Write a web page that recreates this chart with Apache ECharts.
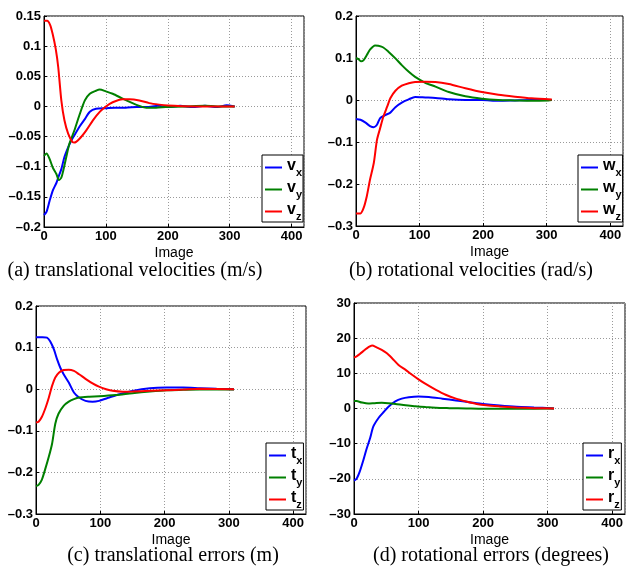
<!DOCTYPE html>
<html>
<head>
<meta charset="utf-8">
<script src="https://cdn.jsdelivr.net/npm/echarts@6/dist/echarts.min.js"></script>
<style>html,body{margin:0;padding:0;background:#fff}#c{width:629px;height:571px}</style>
</head>
<body>
<div id="c"></div>
<script>
// ---- Data ----
const xTicks = [0, 100, 200, 300, 400];
const captions = ['(a) translational velocities (m/s)', '(b) rotational velocities (rad/s)', '(c) translational errors (m)', '(d) rotational errors (degrees)'];
const names = [['vx','vy','vz'], ['wx','wy','wz'], ['tx','ty','tz'], ['rx','ry','rz']];
const yRanges = [[-0.2, 0.15, 0.05], [-0.3, 0.2, 0.1], [-0.3, 0.2, 0.1], [-30, 30, 10]];

// (a) translational velocities
const vxX = [0,4,9,14,20,23,28,33,39,44,49,57,66,74,84,100,115,132,150,165,185,200,220,240,260,280,295,308];
const vxY = [-0.18,-0.175,-0.157,-0.14,-0.127,-0.118,-0.104,-0.084,-0.068,-0.057,-0.048,-0.034,-0.021,-0.009,-0.004,-0.003,-0.002,-0.002,-0.001,-0.001,0.001,-0.001,0.001,-0.001,0.001,-0.001,0.002,0];
const vyX = [0,4,9,14,20,24,28,31,36,41,49,57,66,74,84,90,100,111,127,143,154,165,181,197,229,260,290,308];
const vyY = [-0.082,-0.078,-0.087,-0.101,-0.112,-0.122,-0.118,-0.107,-0.084,-0.062,-0.04,-0.015,0.01,0.021,0.026,0.028,0.025,0.021,0.013,0.0055,0.001,-0.002,-0.002,-0.001,0,0.001,0,0];
const vzX = [0,5,10,14,19,23,28,33,39,46,49,57,68,79,90,100,111,127,138,154,170,186,200,224,260,308];
const vzY = [0.142,0.142,0.135,0.12,0.095,0.065,0.01,-0.023,-0.045,-0.059,-0.06,-0.054,-0.04,-0.023,-0.009,0,0.007,0.012,0.012,0.01,0.0055,0.003,0.0015,0.0005,0,0];

// (b) rotational velocities
const wxX = [0,7,15,22,28,33,38,46,54,62,72,83,93,109,125,146,172,198,224,250,276,308];
const wxY = [-0.045,-0.047,-0.054,-0.062,-0.065,-0.059,-0.043,-0.036,-0.03,-0.017,-0.006,0.0016,0.007,0.006,0.005,0.0016,0,0,-0.002,-0.001,0,0];
const wyX = [0,4,8,12,17,22,30,35,43,51,62,72,83,93,109,125,146,172,198,224,250,276,303,308];
const wyY = [0.1,0.097,0.092,0.095,0.107,0.12,0.13,0.129,0.125,0.115,0.099,0.083,0.067,0.055,0.041,0.032,0.019,0.0087,0.003,0,-0.001,-0.002,-0.001,0];
const wzX = [0,7,12,17,22,28,33,38,43,49,54,62,72,83,93,109,125,146,172,198,224,250,276,308];
const wzY = [-0.27,-0.27,-0.257,-0.229,-0.19,-0.15,-0.095,-0.067,-0.04,-0.016,0.004,0.022,0.034,0.04,0.043,0.0435,0.043,0.038,0.028,0.019,0.0126,0.008,0.004,0.001];

// (c) translational errors
const txX = [0,10,17,22,28,33,38,43,51,59,67,77,88,98,114,130,150,177,203,229,255,281,308];
const txY = [0.125,0.125,0.124,0.115,0.095,0.071,0.051,0.036,0.016,-0.008,-0.02,-0.028,-0.03,-0.028,-0.02,-0.012,-0.004,0.0024,0.004,0.004,0.0024,0.001,0];
const tyX = [0,4,9,14,20,25,30,35,43,51,59,67,83,98,124,150,177,203,229,255,308];
const tyY = [-0.233,-0.23,-0.218,-0.194,-0.162,-0.131,-0.083,-0.059,-0.04,-0.03,-0.024,-0.02,-0.018,-0.017,-0.014,-0.0095,-0.0055,-0.0024,-0.0016,-0.001,-0.001];
const tzX = [0,4,9,15,20,25,30,36,43,51,59,67,77,88,98,109,119,135,150,177,203,229,255,308];
const tzY = [-0.08,-0.078,-0.067,-0.044,-0.02,0.008,0.028,0.04,0.046,0.047,0.044,0.036,0.025,0.014,0.006,0,-0.004,-0.006,-0.0055,-0.004,-0.0024,-0.001,0.001,0];

// (d) rotational errors
const rxX = [0,4,9,14,19,25,30,38,46,53,64,74,85,100,116,137,158,179,200,226,252,279,305,310];
const rxY = [-20.5,-20,-17.9,-15,-11.8,-8.4,-5.1,-2.7,-1,0.4,2,2.8,3.2,3.4,3.3,2.8,2.3,1.8,1.3,0.85,0.5,0.3,0.1,0];
const ryX = [0,4,12,22,32,43,53,64,80,95,111,127,148,174,200,252,310];
const ryY = [2.1,2.1,1.7,1.4,1.5,1.6,1.5,1.3,0.9,0.66,0.4,0.2,0.1,0,-0.1,-0.1,0];
const rzX = [0,4,9,17,22,28,35,43,51,59,69,80,90,100,111,127,142,158,174,190,205,226,252,279,310];
const rzY = [14.5,14.8,15.5,16.7,17.4,17.9,17.4,16.7,15.7,14.3,12.4,11,9.6,8.3,7,5.3,3.9,2.8,2,1.3,0.9,0.6,0.3,0.1,0];

const seriesData = [
  [[vxX, vxY], [vyX, vyY], [vzX, vzY]],
  [[wxX, wxY], [wyX, wyY], [wzX, wzY]],
  [[txX, txY], [tyX, tyY], [tzX, tzY]],
  [[rxX, rxY], [ryX, ryY], [rzX, rzY]]
];

// ---- Layout / style ----
const colors = ['#0000ff', '#008000', '#ff0000'];
const grids = [
  {left: 44, top: 16, width: 260, height: 211},
  {left: 356, top: 16, width: 267, height: 210},
  {left: 36, top: 306, width: 270, height: 208},
  {left: 354, top: 303, width: 271, height: 211}
];
const legendPos = [
  {left: 262, top: 155},
  {left: 578, top: 155},
  {left: 266, top: 443},
  {left: 583, top: 443}
];
const captionPos = [[135, 271], [471, 271], [173, 556], [491, 556]];

const zip = (xs, ys) => xs.map((x, i) => [x, ys[i]]);
const tickFont = {fontFamily: 'Liberation Sans', fontWeight: 'bold', fontSize: 13, color: '#000'};
const dash = v => String(+v.toFixed(4)).replace('-', '\u2013');

const option = {
  animation: false,
  backgroundColor: '#fff',
  grid: grids.map(g => Object.assign({show: true, borderColor: '#000', borderWidth: 1, containLabel: false}, g)),
  xAxis: grids.map((g, i) => ({
    type: 'value', gridIndex: i, min: 0, max: 420, interval: 100,
    name: 'Image', nameLocation: 'middle', nameGap: 19,
    nameTextStyle: {fontFamily: 'Liberation Sans', fontSize: 14, color: '#000'},
    axisLine: {show: true, onZero: false, lineStyle: {color: '#000', width: 1}},
    axisTick: {show: true, inside: true, length: 3, lineStyle: {color: '#000'}},
    axisLabel: Object.assign({margin: 3, showMaxLabel: false, formatter: v => xTicks.includes(v) ? String(v) : ''}, tickFont),
    splitLine: {show: true, lineStyle: {type: [1, 2], color: '#9a9a9a', width: 1}}
  })),
  yAxis: yRanges.map((r, i) => ({
    type: 'value', gridIndex: i, min: r[0], max: r[1], interval: r[2],
    axisLine: {show: true, onZero: false, lineStyle: {color: '#000', width: 1}},
    axisTick: {show: true, inside: true, length: 3, lineStyle: {color: '#000'}},
    axisLabel: Object.assign({margin: 3, formatter: dash}, tickFont),
    splitLine: {show: true, lineStyle: {type: [1, 2], color: '#9a9a9a', width: 1}}
  })),
  legend: names.map((ns, i) => ({
    data: ns, orient: 'vertical', left: legendPos[i].left, top: legendPos[i].top,
    backgroundColor: '#fff', borderColor: '#000', borderWidth: 1,
    padding: [2, 1, 0, 3], itemGap: 1, itemWidth: 17, itemHeight: 2, icon: 'rect',
    selectedMode: false,
    formatter: n => '{m|' + n[0] + '}{s|' + n[1] + '}',
    textStyle: {
      rich: {
        m: {fontFamily: 'Liberation Sans', fontWeight: 'bold', fontSize: 16, color: '#000', lineHeight: 20, verticalAlign: 'top'},
        s: {fontFamily: 'Liberation Sans', fontWeight: 'bold', fontSize: 11, color: '#000', lineHeight: 20, padding: [10, 0, 0, 0]}
      }
    }
  })),
  series: [],
  graphic: captions.map((t, i) => ({
    type: 'text', x: captionPos[i][0], y: captionPos[i][1],
    style: {text: t, font: '20px "Liberation Serif"', fill: '#000', textAlign: 'center', textVerticalAlign: 'middle'}
  }))
};

seriesData.forEach((panel, i) => {
  panel.forEach((s, j) => {
    option.series.push({
      type: 'line', name: names[i][j], xAxisIndex: i, yAxisIndex: i,
      data: zip(s[0], s[1]), showSymbol: false, smooth: 0.25,
      lineStyle: {color: colors[j], width: 2}, itemStyle: {color: colors[j]}
    });
  });
});

const chart = echarts.init(document.getElementById('c'), null, {renderer: 'canvas', width: 629, height: 571});
chart.setOption(option);
</script>
</body>
</html>
